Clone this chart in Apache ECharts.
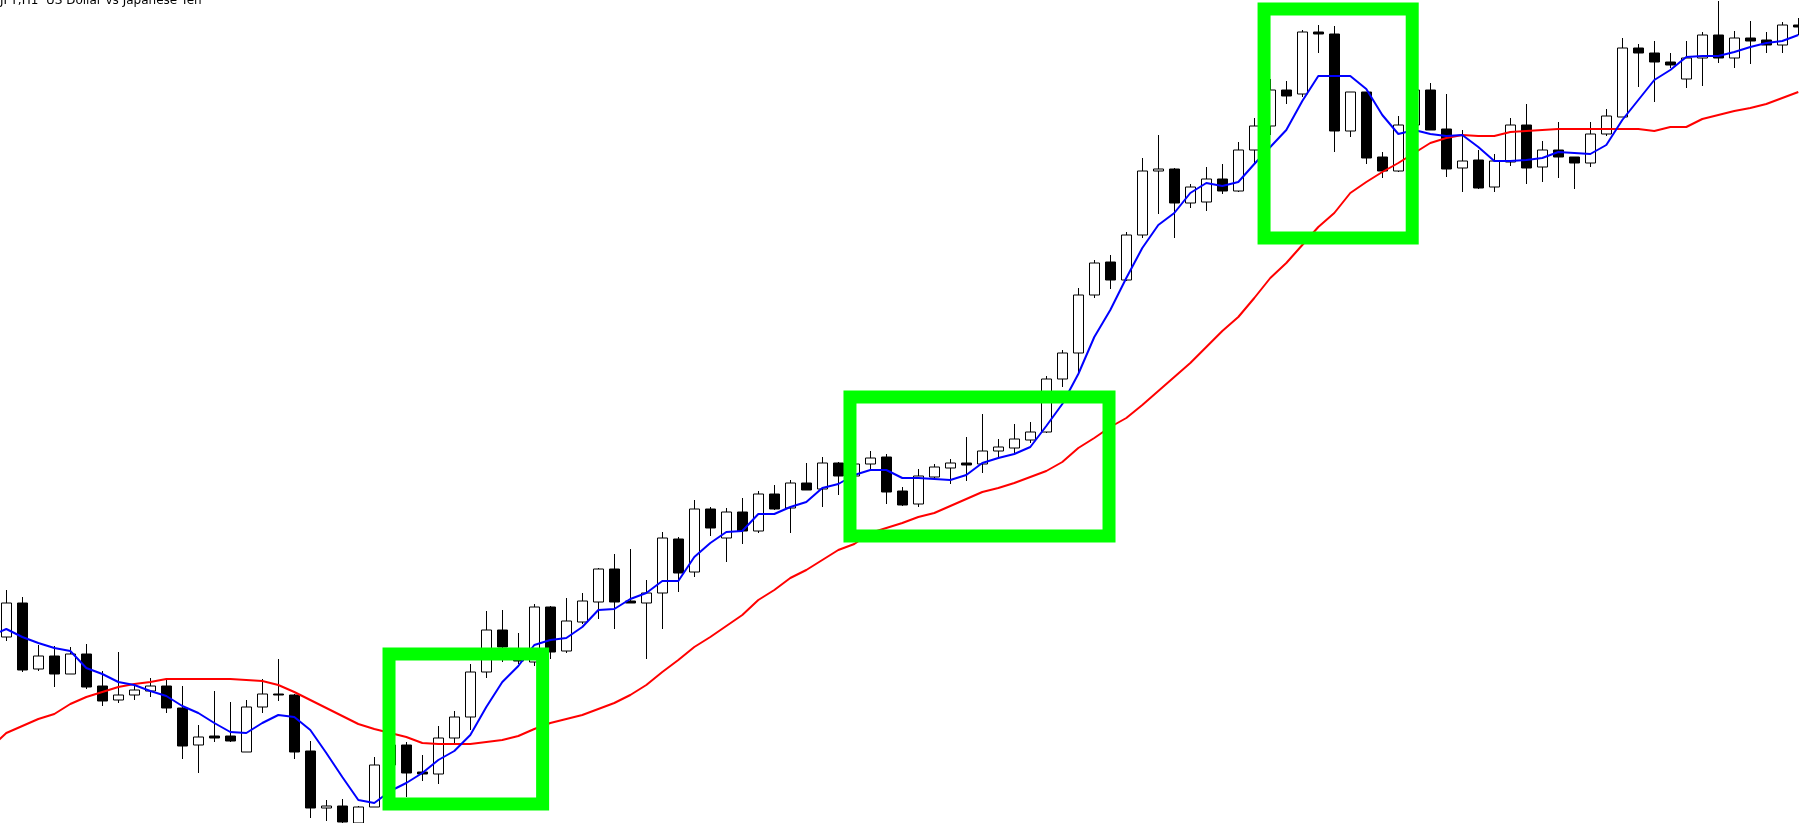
<!DOCTYPE html>
<html>
<head>
<meta charset="utf-8">
<script src="https://cdn.jsdelivr.net/npm/echarts@6/dist/echarts.min.js"></script>
<style>
html,body{margin:0;padding:0;background:#fff;}
#chart{width:1799px;height:823px;}
</style>
</head>
<body>
<div id="chart"></div>
<script>
// USDJPY H1 — bar index, OHLC prices
const opens = [109.186,109.220,109.154,109.167,109.149,109.169,109.137,109.123,109.128,109.132,
109.137,109.115,109.078,109.087,109.087,109.071,109.116,109.129,109.128,109.072,
109.015,109.017,109.000,109.016,109.058,109.078,109.051,109.049,109.085,109.106,
109.151,109.193,109.173,109.161,109.216,109.172,109.201,109.221,109.254,109.222,
109.220,109.230,109.284,109.251,109.314,109.285,109.311,109.292,109.329,109.315,
109.340,109.334,109.360,109.347,109.359,109.366,109.332,109.319,109.346,109.355,
109.360,109.359,109.372,109.375,109.383,109.391,109.444,109.470,109.528,109.561,
109.543,109.588,109.652,109.654,109.620,109.621,109.644,109.632,109.673,109.697,
109.733,109.729,109.791,109.789,109.692,109.731,109.666,109.652,109.698,109.733,
109.694,109.655,109.663,109.636,109.661,109.698,109.656,109.673,109.666,109.660,
109.689,109.706,109.775,109.770,109.761,109.744,109.765,109.788,109.765,109.785,
109.783,109.778,109.798];
const closes = [109.220,109.153,109.167,109.149,109.169,109.136,109.122,109.128,109.133,109.137,
109.115,109.077,109.086,109.085,109.082,109.116,109.129,109.128,109.071,109.015,
109.017,109.001,109.016,109.058,109.078,109.050,109.049,109.085,109.106,109.151,
109.193,109.176,109.162,109.216,109.171,109.202,109.222,109.254,109.221,109.220,
109.230,109.285,109.250,109.314,109.295,109.311,109.292,109.329,109.314,109.340,
109.333,109.360,109.347,109.359,109.365,109.331,109.318,109.347,109.356,109.360,
109.358,109.372,109.376,109.384,109.391,109.444,109.470,109.528,109.560,109.543,
109.588,109.652,109.654,109.620,109.636,109.644,109.632,109.673,109.697,109.733,
109.727,109.791,109.789,109.692,109.731,109.665,109.652,109.698,109.733,109.693,
109.654,109.662,109.635,109.662,109.698,109.655,109.673,109.666,109.660,109.689,
109.707,109.775,109.770,109.761,109.758,109.765,109.788,109.765,109.785,109.782,
109.778,109.798,109.796];
const lows = [109.182,109.151,109.152,109.136,109.149,109.134,109.117,109.120,109.123,109.126,
109.110,109.064,109.050,109.081,109.081,109.071,109.110,109.122,109.064,109.005,
109.002,108.995,108.993,109.016,109.048,109.026,109.042,109.039,109.078,109.093,
109.145,109.161,109.159,109.157,109.164,109.170,109.199,109.204,109.194,109.220,
109.164,109.194,109.231,109.246,109.287,109.261,109.279,109.290,109.313,109.290,
109.333,109.316,109.328,109.345,109.353,109.319,109.317,109.316,109.345,109.339,
109.342,109.350,109.366,109.370,109.380,109.390,109.436,109.450,109.525,109.534,
109.542,109.585,109.609,109.585,109.615,109.612,109.629,109.631,109.660,109.688,
109.719,109.726,109.770,109.671,109.686,109.659,109.645,109.651,109.693,109.693,
109.646,109.631,109.634,109.631,109.657,109.639,109.641,109.645,109.634,109.656,
109.687,109.706,109.736,109.721,109.755,109.735,109.737,109.760,109.755,109.759,
109.770,109.770,109.788];
const highs = [109.233,109.226,109.178,109.177,109.176,109.179,109.152,109.171,109.140,109.145,
109.143,109.137,109.098,109.132,109.121,109.123,109.144,109.164,109.129,109.082,
109.023,109.024,109.017,109.066,109.083,109.081,109.068,109.097,109.112,109.159,
109.212,109.213,109.190,109.219,109.217,109.225,109.230,109.255,109.269,109.274,
109.243,109.291,109.286,109.323,109.316,109.315,109.325,109.332,109.338,109.343,
109.360,109.366,109.361,109.364,109.372,109.369,109.336,109.354,109.359,109.364,
109.386,109.409,109.384,109.399,109.401,109.447,109.473,109.535,109.563,109.568,
109.591,109.665,109.688,109.655,109.639,109.656,109.659,109.681,109.705,109.744,
109.742,109.793,109.798,109.797,109.731,109.731,109.671,109.707,109.738,109.740,
109.729,109.693,109.673,109.669,109.705,109.719,109.682,109.701,109.666,109.701,
109.714,109.785,109.779,109.782,109.770,109.782,109.791,109.822,109.792,109.802,
109.791,109.801,109.805];
// Moving averages, starting one bar before the first visible candle
const maStart = -1;
const maFast = [109.187,
109.194,109.186,109.180,109.175,109.172,109.155,109.149,109.141,109.138,109.132,
109.127,109.117,109.110,109.100,109.091,109.090,109.100,109.108,109.106,109.093,
109.070,109.046,109.023,109.020,109.032,109.040,109.050,109.063,109.072,109.088,
109.116,109.141,109.157,109.178,109.183,109.185,109.196,109.213,109.214,109.224,
109.230,109.242,109.242,109.266,109.280,109.291,109.292,109.309,109.309,109.316,
109.321,109.335,109.339,109.348,109.353,109.353,109.345,109.345,109.344,109.343,
109.348,109.360,109.365,109.369,109.376,109.397,109.419,109.449,109.486,109.513,
109.545,109.575,109.598,109.610,109.630,109.640,109.637,109.641,109.659,109.676,
109.693,109.722,109.747,109.747,109.747,109.734,109.708,109.689,109.693,109.689,
109.687,109.688,109.676,109.662,109.662,109.663,109.665,109.671,109.670,109.669,
109.678,109.703,109.723,109.743,109.753,109.766,109.767,109.767,109.771,109.776,
109.780,109.782,109.788];
const maSlow = [109.075,
109.090,109.097,109.104,109.109,109.119,109.126,109.131,109.136,109.139,109.141,
109.144,109.144,109.144,109.144,109.144,109.143,109.142,109.138,109.131,109.123,
109.115,109.107,109.099,109.094,109.090,109.086,109.080,109.079,109.079,109.079,
109.081,109.083,109.087,109.094,109.100,109.104,109.108,109.114,109.120,109.128,
109.138,109.151,109.163,109.176,109.186,109.197,109.208,109.223,109.233,109.245,
109.253,109.263,109.273,109.279,109.290,109.295,109.300,109.306,109.310,109.317,
109.324,109.331,109.335,109.340,109.346,109.352,109.361,109.375,109.385,109.396,
109.405,109.418,109.432,109.446,109.460,109.476,109.492,109.506,109.525,109.545,
109.560,109.578,109.596,109.610,109.630,109.641,109.651,109.660,109.670,109.680,
109.685,109.688,109.687,109.687,109.691,109.692,109.693,109.694,109.694,109.694,
109.694,109.694,109.694,109.692,109.696,109.696,109.704,109.708,109.712,109.715,
109.719,109.725,109.731];
// Highlight boxes: [fromBar, topPrice, toBar, bottomPrice]
const boxes = [[23.92,109.169,33.52,109.019],[52.73,109.426,68.92,109.287],[78.61,109.814,87.87,109.585]];
const titleText = 'JPY,H1  US Dollar vs Japanese Yen';

const candleData = opens.map((o,i)=>[i,o,closes[i],lows[i],highs[i]]);
const fastData = maFast.map((v,i)=>[i+maStart,v]);
const slowData = maSlow.map((v,i)=>[i+maStart,v]);

const chart = echarts.init(document.getElementById('chart'), null, {renderer:'canvas'});
chart.setOption({
  animation:false,
  backgroundColor:'#ffffff',
  title:{text:titleText,left:0,top:-5,padding:0,textStyle:{fontFamily:'DejaVu Sans',fontSize:12,fontWeight:'normal',color:'#000'}},
  grid:{left:0,right:0,top:0,bottom:0,containLabel:false},
  xAxis:{type:'value',min:-0.394,max:112.044,show:false,splitLine:{show:false}},
  yAxis:{type:'value',min:109.000,max:109.823,show:false,splitLine:{show:false},scale:true},
  series:[
    {type:'candlestick',data:candleData,barWidth:10,clip:true,z:2,
     itemStyle:{color:'#ffffff',color0:'#000000',borderColor:'#000000',borderColor0:'#000000',borderWidth:1}},
    {type:'line',data:slowData,showSymbol:false,symbol:'none',z:3,lineStyle:{color:'#ff0000',width:2}},
    {type:'line',data:fastData,showSymbol:false,symbol:'none',z:4,lineStyle:{color:'#0000ff',width:2}},
    {type:'custom',data:boxes,z:10,clip:false,encode:{x:[0,2],y:[1,3]},
     renderItem:function(params,api){
       const p1=api.coord([api.value(0),api.value(1)]);
       const p2=api.coord([api.value(2),api.value(3)]);
       return {type:'rect',shape:{x:p1[0],y:p1[1],width:p2[0]-p1[0],height:p2[1]-p1[1]},
               style:{fill:'none',stroke:'#00ff00',lineWidth:13}};
     }}
  ]
});
</script>
</body>
</html>
